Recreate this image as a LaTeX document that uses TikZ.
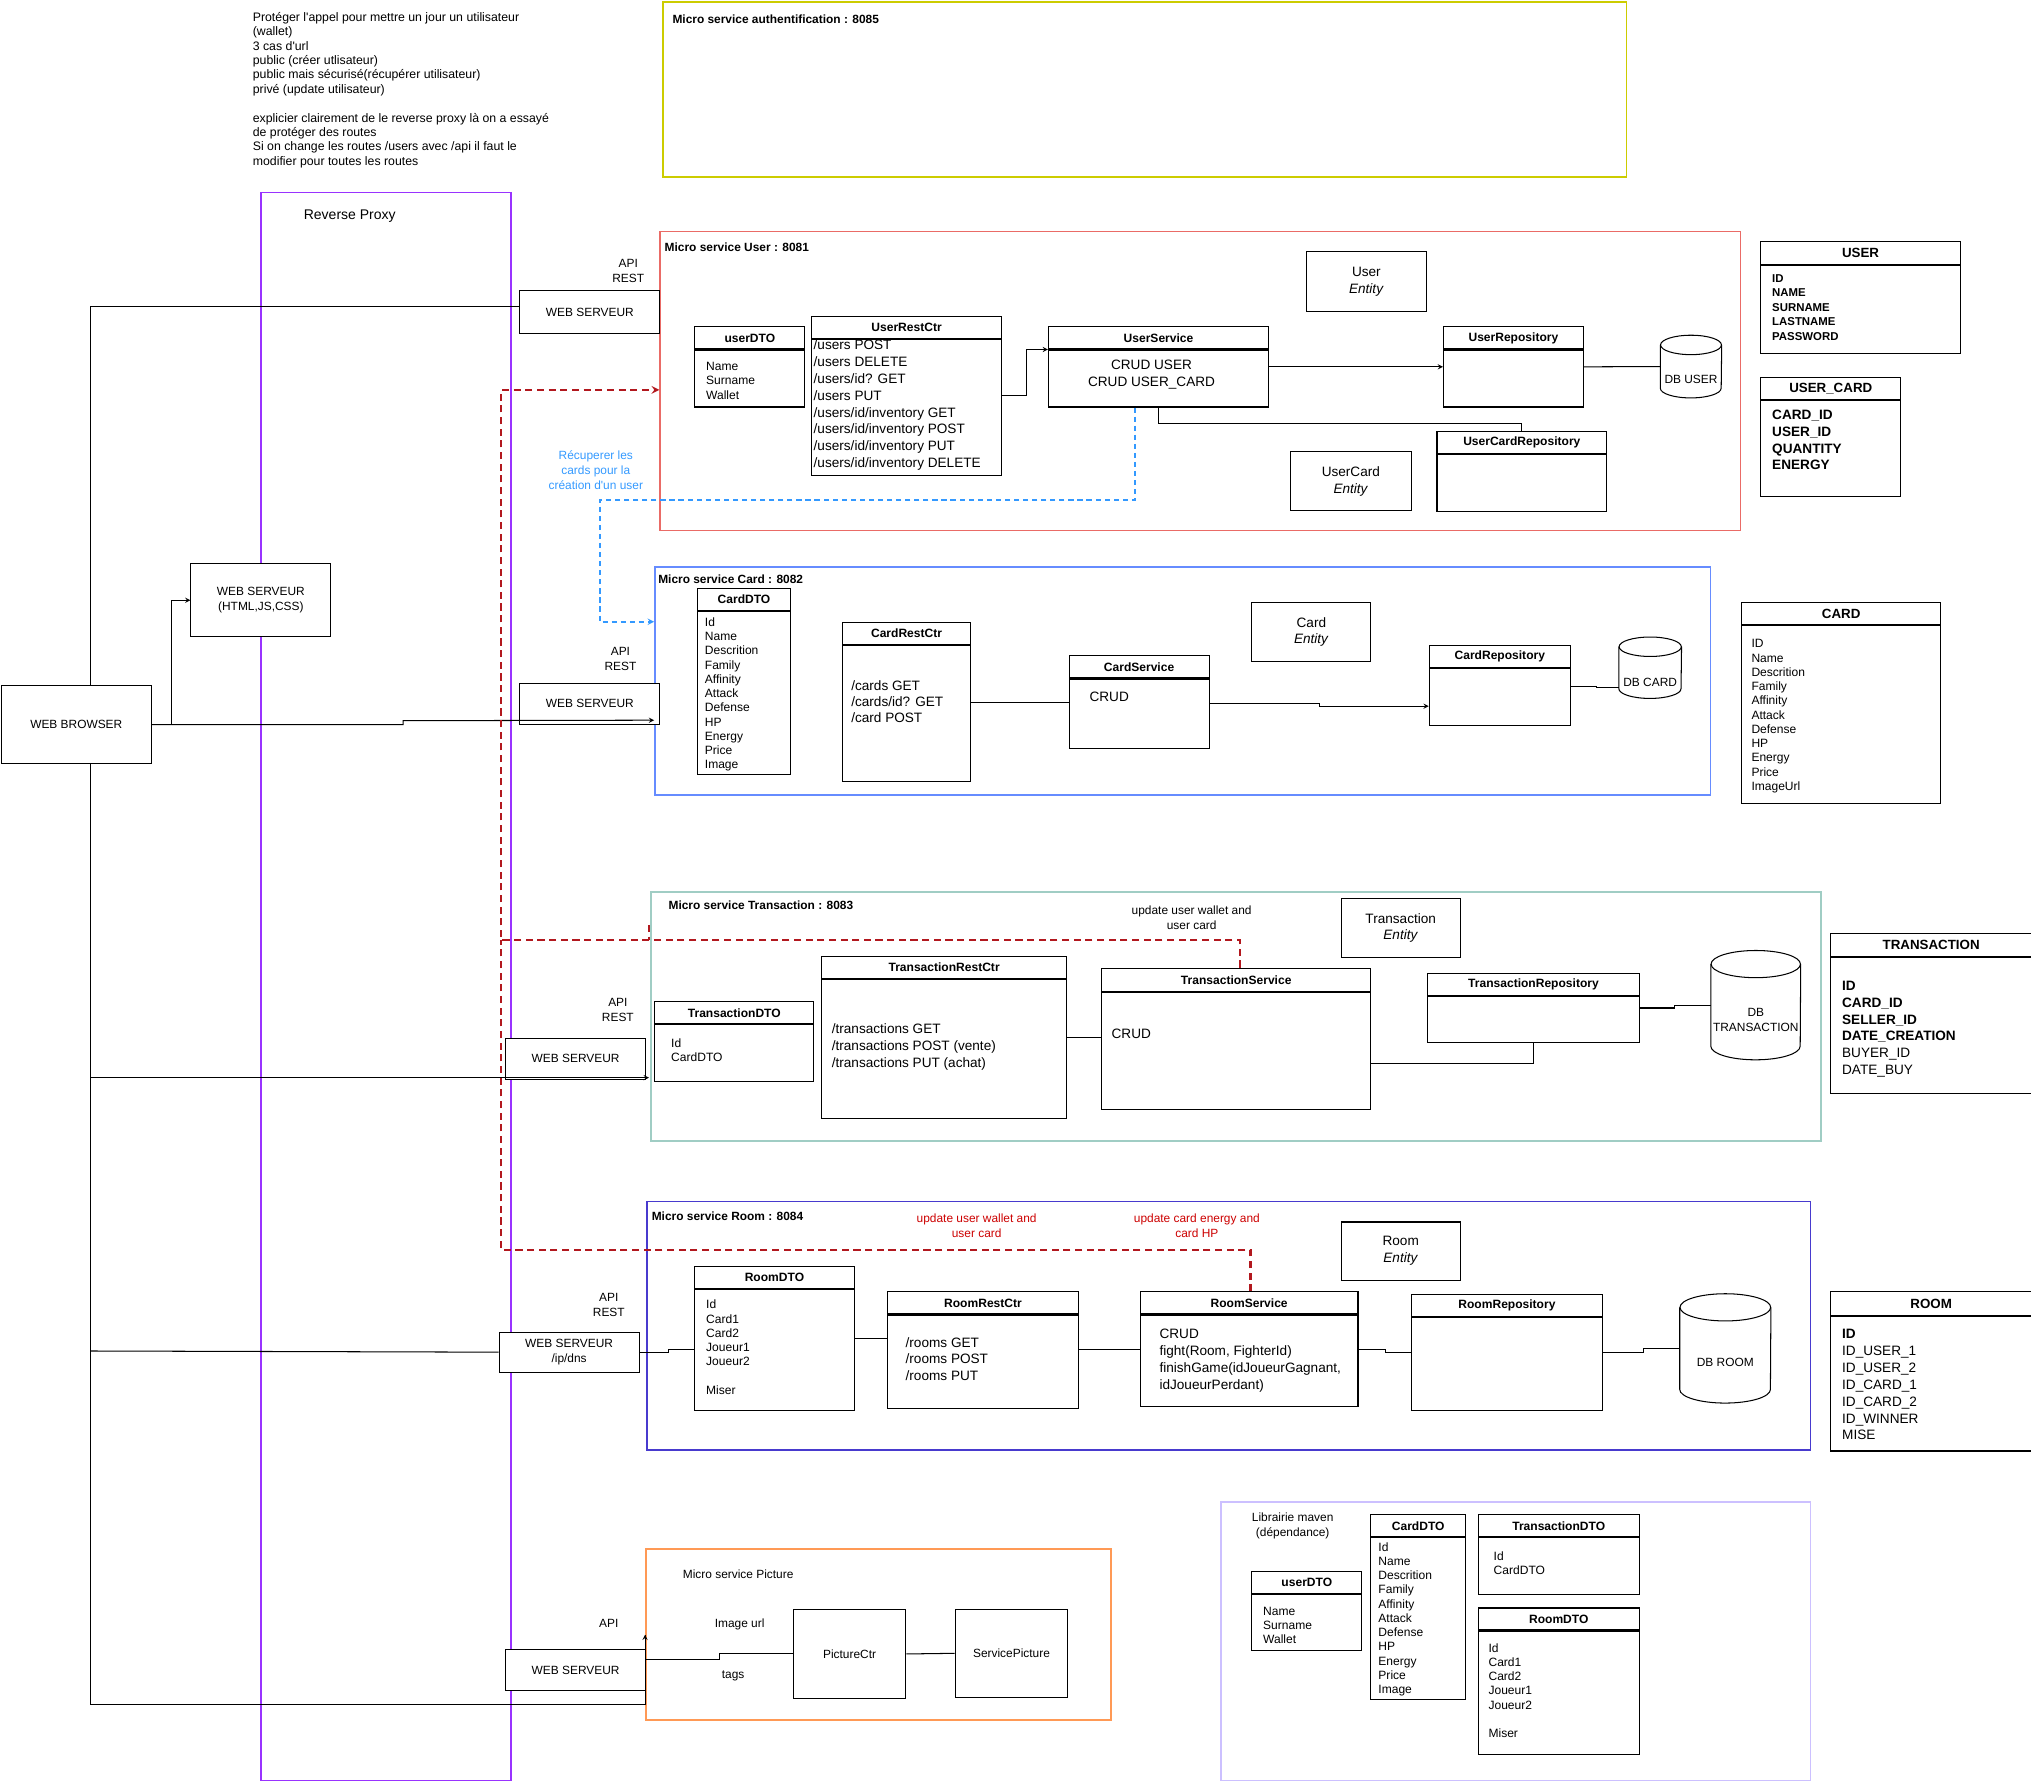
\documentclass[tikz,border=0pt]{standalone}
\usepackage{fontspec}
\setmainfont{Liberation Sans}
\usetikzlibrary{shapes.geometric, arrows, calc}
\definecolor{msyellow}{RGB}{204,204,0}
\definecolor{msred}{RGB}{234,107,102}
\definecolor{msblue}{RGB}{102,140,255}
\definecolor{msteal}{RGB}{160,205,196}
\definecolor{msindigo}{RGB}{72,58,206}
\definecolor{msorange}{RGB}{255,153,85}
\definecolor{mslavender}{RGB}{204,192,255}
\definecolor{proxyviolet}{RGB}{153,51,255}
\definecolor{dashred}{RGB}{178,24,30}
\definecolor{dashblue}{RGB}{51,153,255}
\definecolor{notered}{RGB}{204,0,0}
\tikzstyle{msbox} = [rectangle, line width=1.3pt, anchor=north west, inner sep=0pt]
\tikzstyle{mslabel} = [anchor=west, inner sep=0pt, font=\bfseries\fontsize{9.2}{11}\selectfont]
\tikzstyle{wbox} = [rectangle, draw=black, fill=white, line width=0.8pt, anchor=north west, inner sep=0pt, align=center, font=\fontsize{9.2}{11.5}\selectfont]
\tikzstyle{entity} = [wbox, font=\fontsize{10.5}{13}\selectfont]
\tikzstyle{head} = [rectangle, draw=black, fill=white, line width=0.8pt, anchor=north west, inner sep=0pt, font=\bfseries\fontsize{9.3}{11}\selectfont]
\tikzstyle{tabhead} = [head, font=\bfseries\fontsize{10.3}{12}\selectfont]
\tikzstyle{body} = [rectangle, draw=black, fill=white, line width=0.8pt, anchor=north west, inner sep=0pt, align=center, font=\fontsize{10.5}{13}\selectfont]
\tikzstyle{fields} = [anchor=north west, inner sep=0pt, align=left, font=\fontsize{9.3}{11}\selectfont]
\tikzstyle{routes} = [fields, font=\fontsize{10.5}{13}\selectfont]
\tikzstyle{txt} = [inner sep=0pt, align=center, font=\fontsize{9.2}{11.5}\selectfont]
\tikzstyle{note} = [anchor=north west, inner sep=0pt, align=left, font=\fontsize{9.5}{11.1}\selectfont]
\tikzstyle{db} = [rectangle, fill=white, inner sep=0pt]
\tikzstyle{link} = [line width=0.8pt]
\tikzstyle{arrow} = [line width=0.8pt, ->, >=stealth]
\tikzstyle{reddash} = [draw=dashred, line width=1.6pt, dash pattern=on 5.5pt off 3.5pt]
\tikzstyle{bluedash} = [draw=dashblue, line width=1.2pt, dash pattern=on 4pt off 3pt, ->, >=stealth]

\begin{document}
\begin{tikzpicture}[x=1pt, y=-1pt]
    \useasboundingbox (0,0) rectangle (1568,1376);

    % notes
    \node (notes) [note] at (195,9.3) {Prot\'eger l\textquotesingle appel pour mettre un jour un utilisateur\\(wallet)\\3 cas d\textquotesingle url\\public (cr\'eer utlisateur)\\public mais s\'ecuris\'e(r\'ecup\'erer utilisateur)\\priv\'e (update utilisateur)\\[11.1pt]explicier clairement de le reverse proxy l\`a on a essay\'e\\de prot\'eger des routes\\Si on change les routes /users avec /api il faut le\\modifier pour toutes les routes};

    % containers
    \node (msauth) [msbox, draw=msyellow, minimum width=744, minimum height=135] at (511,1) {};
    \node (msauthlbl) [mslabel] at (519,15) {Micro service authentification : 8085};
    \node (proxy) [msbox, draw=proxyviolet, line width=1pt, minimum width=193, minimum height=1226] at (201,148) {};
    \node (proxylbl) [txt, font=\fontsize{10.8}{13}\selectfont] at (270,167) {Reverse Proxy};
    \node (msuser) [msbox, draw=msred, minimum width=834, minimum height=231] at (509,178) {};
    \node (msuserlbl) [mslabel] at (513,191) {Micro service User : 8081};
    \node (mscard) [msbox, draw=msblue, minimum width=815, minimum height=176] at (505,437) {};
    \node (mscardlbl) [mslabel] at (508,447) {Micro service Card : 8082};
    \node (mstrans) [msbox, draw=msteal, minimum width=903, minimum height=192] at (502,688) {};
    \node (mstranslbl) [mslabel] at (516,699) {Micro service Transaction : 8083};
    \node (msroom) [msbox, draw=msindigo, minimum width=898, minimum height=192] at (499,927) {};
    \node (msroomlbl) [mslabel] at (503,939) {Micro service Room : 8084};
    \node (mspic) [msbox, draw=msorange, minimum width=359, minimum height=132] at (498,1195) {};
    \node (mspiclbl) [mslabel, font=\fontsize{9.2}{11}\selectfont] at (527,1215) {Micro service Picture};
    \node (mslib) [msbox, draw=mslavender, minimum width=455, minimum height=215] at (942,1159) {};
    \node (mslibllbl) [txt] at (998,1178) {Librairie maven\\(d\'ependance)};

    % browser and web servers
    \node (browser) [wbox, minimum width=116, minimum height=60] at (0.5,529) {WEB BROWSER};
    \node (wshtml) [wbox, minimum width=108, minimum height=56] at (147,435) {WEB SERVEUR\\(HTML,JS,CSS)};
    \node (wsuser) [wbox, minimum width=108, minimum height=33] at (401,224) {WEB SERVEUR};
    \node (apiuser) [txt] at (485,209) {API\\REST};
    \node (wscard) [wbox, minimum width=108, minimum height=32] at (401,527) {WEB SERVEUR};
    \node (apicard) [txt] at (479,509) {API\\REST};
    \node (wstrans) [wbox, minimum width=108, minimum height=32] at (390,801) {WEB SERVEUR};
    \node (apitrans) [txt] at (477,780) {API\\REST};
    \node (wsroom) [wbox, minimum width=108, minimum height=31] at (385,1028) {WEB SERVEUR\\/ip/dns};
    \node (apiroom) [txt] at (470,1007.5) {API\\REST};
    \node (wspic) [wbox, minimum width=108, minimum height=32] at (390,1273) {WEB SERVEUR};
    \node (apipic) [txt] at (470,1253) {API};

    % user service
    \node (userdtoh) [head, minimum width=85, minimum height=17] at (536,252) {userDTO};
    \node (userdto) [body, minimum width=85, minimum height=44] at (userdtoh.south west) {};
    \node (userdtotxt) [fields] at (545,279.6) {Name\\Surname\\Wallet};
    \node (userctrh) [head, minimum width=147, minimum height=17] at (626,244) {UserRestCtr};
    \node (userctr) [body, minimum width=147, minimum height=105] at (userctrh.south west) {};
    \node (userctrtxt) [routes] at (628,262.2) {/users POST\\/users DELETE\\/users/id? GET\\/users PUT\\/users/id/inventory GET\\/users/id/inventory POST\\/users/id/inventory PUT\\/users/id/inventory DELETE};
    \node (usersvch) [head, minimum width=170, minimum height=17] at (809,252) {UserService};
    \node (usersvc) [body, minimum width=170, minimum height=44] at (usersvch.south west) {};
    \node (usersvctxt) [txt, font=\fontsize{10.5}{13}\selectfont] at (889,289.5) {CRUD USER\\CRUD USER\_CARD};
    \node (userent) [entity, minimum width=93, minimum height=46] at (1008,194) {User\\\textit{Entity}};
    \node (userrepoh) [head, minimum width=108, minimum height=17] at (1114,252) {UserRepository};
    \node (userrepo) [body, minimum width=108, minimum height=44] at (userrepoh.south west) {};
    \node (dbuser) [db, minimum width=47, minimum height=48] at (1305.5,283) {};
    \draw [link] ($(dbuser.north)+(0,7.5)$) ellipse [x radius=23.5, y radius=7.5];
    \draw [link] ($(dbuser.north west)+(0,7.5)$) -- ($(dbuser.south west)+(0,-7.5)$) arc [start angle=180, end angle=0, x radius=23.5, y radius=7.5] -- ($(dbuser.north east)+(0,7.5)$);
    \node (dbusertxt) [txt] at (1305.5,293) {DB USER};
    \node (ucrepoh) [head, minimum width=131, minimum height=17] at (1109,333) {UserCardRepository};
    \node (ucrepo) [body, minimum width=131, minimum height=44] at (ucrepoh.south west) {};
    \node (ucent) [entity, minimum width=93, minimum height=46] at (996,348) {UserCard\\\textit{Entity}};
    \node (recup) [txt, text=dashblue] at (460,363) {R\'ecuperer les\\cards pour la\\cr\'eation d\textquotesingle un user};

    % card service
    \node (carddtoh) [head, minimum width=72, minimum height=17] at (538,454) {CardDTO};
    \node (carddto) [body, minimum width=72, minimum height=126] at (carddtoh.south west) {};
    \node (carddtotxt) [fields] at (544,476.6) {Id\\Name\\Descrition\\Family\\Affinity\\Attack\\Defense\\HP\\Energy\\Price\\Image};
    \node (cardctrh) [head, minimum width=99, minimum height=17] at (650,480) {CardRestCtr};
    \node (cardctr) [body, minimum width=99, minimum height=105] at (cardctrh.south west) {};
    \node (cardctrtxt) [routes, font=\fontsize{10.5}{12.5}\selectfont] at (657,525.2) {/cards GET\\/cards/id? GET\\/card POST};
    \node (cardsvch) [head, minimum width=108, minimum height=17] at (825,506) {CardService};
    \node (cardsvc) [body, minimum width=108, minimum height=54] at (cardsvch.south west) {};
    \node (cardsvctxt) [routes] at (841,534.2) {CRUD};
    \node (cardent) [entity, minimum width=92, minimum height=45] at (966,465) {Card\\\textit{Entity}};
    \node (cardrepoh) [head, minimum width=109, minimum height=17] at (1103,498) {CardRepository};
    \node (cardrepo) [body, minimum width=109, minimum height=44] at (cardrepoh.south west) {};
    \node (dbcard) [db, minimum width=48, minimum height=47] at (1274,515.5) {};
    \draw [link] ($(dbcard.north)+(0,7.5)$) ellipse [x radius=24, y radius=7.5];
    \draw [link] ($(dbcard.north west)+(0,7.5)$) -- ($(dbcard.south west)+(0,-7.5)$) arc [start angle=180, end angle=0, x radius=24, y radius=7.5] -- ($(dbcard.north east)+(0,7.5)$);
    \node (dbcardtxt) [txt] at (1274,527) {DB CARD};

    % transaction service
    \node (transent) [entity, minimum width=92, minimum height=46] at (1035,693) {Transaction\\\textit{Entity}};
    \node (transnote) [txt] at (920,708.5) {update user wallet and\\user card};
    \node (transdtoh) [head, minimum width=123, minimum height=17] at (505,773) {TransactionDTO};
    \node (transdto) [body, minimum width=123, minimum height=44] at (transdtoh.south west) {};
    \node (transdtotxt) [fields] at (518,801.6) {Id\\CardDTO};
    \node (transctrh) [head, minimum width=189, minimum height=17] at (634,738) {TransactionRestCtr};
    \node (transctr) [body, minimum width=189, minimum height=107] at (transctrh.south west) {};
    \node (transctrtxt) [routes] at (642,790.2) {/transactions GET\\/transactions POST (vente)\\/transactions PUT (achat)};
    \node (transvch) [head, minimum width=208, minimum height=18] at (850,747) {TransactionService};
    \node (transvc) [body, minimum width=208, minimum height=90] at (transvch.south west) {};
    \node (transvctxt) [routes] at (858,794.2) {CRUD};
    \node (transrepoh) [head, minimum width=163, minimum height=17] at (1102,751) {TransactionRepository};
    \node (transrepo) [body, minimum width=163, minimum height=36] at (transrepoh.south west) {};
    \node (dbtrans) [db, minimum width=69, minimum height=84] at (1355.5,776) {};
    \draw [link] ($(dbtrans.north)+(0,10.5)$) ellipse [x radius=34.5, y radius=10.5];
    \draw [link] ($(dbtrans.north west)+(0,10.5)$) -- ($(dbtrans.south west)+(0,-10.5)$) arc [start angle=180, end angle=0, x radius=34.5, y radius=10.5] -- ($(dbtrans.north east)+(0,10.5)$);
    \node (dbtranstxt) [txt] at (1355.5,787.5) {DB\\TRANSACTION};

    % room service
    \node (roomwallet) [txt, text=notered] at (754,946.5) {update user wallet and\\user card};
    \node (roomenergy) [txt, text=notered] at (924,946.5) {update card energy and\\card HP};
    \node (rooment) [entity, minimum width=92, minimum height=45] at (1035,943) {Room\\\textit{Entity}};
    \node (roomdtoh) [head, minimum width=123, minimum height=17] at (536,977) {RoomDTO};
    \node (roomdto) [body, minimum width=123, minimum height=94] at (roomdtoh.south west) {};
    \node (roomdtotxt) [fields] at (545,1003.6) {Id\\Card1\\Card2\\Joueur1\\Joueur2\\[11pt]Miser};
    \node (roomctrh) [head, minimum width=147, minimum height=17] at (685,997) {RoomRestCtr};
    \node (roomctr) [body, minimum width=147, minimum height=72] at (roomctrh.south west) {};
    \node (roomctrtxt) [routes] at (699,1032.2) {/rooms GET\\/rooms POST\\/rooms PUT};
    \node (roomsvch) [head, minimum width=168, minimum height=17] at (880,997) {RoomService};
    \node (roomsvc) [body, minimum width=168, minimum height=71] at (roomsvch.south west) {};
    \node (roomsvctxt) [routes] at (895,1026.2) {CRUD\\fight(Room, FighterId)\\finishGame(idJoueurGagnant,\\idJoueurPerdant)};
    \node (roomrepoh) [head, minimum width=148, minimum height=17] at (1089,999) {RoomRepository};
    \node (roomrepo) [body, minimum width=148, minimum height=72] at (roomrepoh.south west) {};
    \node (dbroom) [db, minimum width=70, minimum height=84] at (1332,1041) {};
    \draw [link] ($(dbroom.north)+(0,10.5)$) ellipse [x radius=35, y radius=10.5];
    \draw [link] ($(dbroom.north west)+(0,10.5)$) -- ($(dbroom.south west)+(0,-10.5)$) arc [start angle=180, end angle=0, x radius=35, y radius=10.5] -- ($(dbroom.north east)+(0,10.5)$);
    \node (dbroomtxt) [txt] at (1332,1052) {DB ROOM};

    % picture service
    \node (picctr) [wbox, minimum width=87, minimum height=69] at (612,1242) {PictureCtr};
    \node (picsvc) [wbox, minimum width=87, minimum height=68] at (737,1242) {ServicePicture};
    \node (imgurl) [txt] at (571,1254) {Image url};
    \node (tags) [txt] at (566,1294) {tags};

    % maven library
    \node (libuserh) [head, minimum width=85, minimum height=17] at (966,1213) {userDTO};
    \node (libuser) [body, minimum width=85, minimum height=43] at (libuserh.south west) {};
    \node (libusertxt) [fields] at (975,1240.6) {Name\\Surname\\Wallet};
    \node (libcardh) [head, minimum width=73, minimum height=17] at (1058,1169) {CardDTO};
    \node (libcard) [body, minimum width=73, minimum height=125] at (libcardh.south west) {};
    \node (libcardtxt) [fields] at (1064,1190.6) {Id\\Name\\Descrition\\Family\\Affinity\\Attack\\Defense\\HP\\Energy\\Price\\Image};
    \node (libtransh) [head, minimum width=124, minimum height=17] at (1141,1169) {TransactionDTO};
    \node (libtrans) [body, minimum width=124, minimum height=44] at (libtransh.south west) {};
    \node (libtranstxt) [fields] at (1153,1197.6) {Id\\CardDTO};
    \node (libroomh) [head, minimum width=124, minimum height=17] at (1141,1241) {RoomDTO};
    \node (libroom) [body, minimum width=124, minimum height=95] at (libroomh.south west) {};
    \node (libroomtxt) [fields] at (1149,1268.6) {Id\\Card1\\Card2\\Joueur1\\Joueur2\\[11pt]Miser};

    % database tables
    \node (tuserh) [tabhead, minimum width=154, minimum height=18] at (1359,186) {USER};
    \node (tuser) [body, minimum width=154, minimum height=68] at (tuserh.south west) {};
    \node (tusertxt) [fields, font=\bfseries\fontsize{8.8}{11.2}\selectfont] at (1368,211.8) {ID\\NAME\\SURNAME\\LASTNAME\\PASSWORD};
    \node (tucardh) [tabhead, minimum width=108, minimum height=17] at (1359,291) {USER\_CARD};
    \node (tucard) [body, minimum width=108, minimum height=74] at (tucardh.south west) {};
    \node (tucardtxt) [routes, font=\bfseries\fontsize{10.5}{13}\selectfont] at (1368,316.2) {CARD\_ID\\USER\_ID\\QUANTITY\\ENERGY};
    \node (tcardh) [tabhead, minimum width=154, minimum height=17] at (1344,465) {CARD};
    \node (tcard) [body, minimum width=154, minimum height=137] at (tcardh.south west) {};
    \node (tcardtxt) [fields] at (1352,493.6) {ID\\Name\\Descrition\\Family\\Affinity\\Attack\\Defense\\HP\\Energy\\Price\\ImageUrl};
    \node (ttransh) [tabhead, minimum width=155, minimum height=18] at (1413,720) {TRANSACTION};
    \node (ttrans) [body, minimum width=155, minimum height=105] at (ttransh.south west) {};
    \node (ttranstxt) [routes] at (1422,757.2) {\textbf{ID}\\\textbf{CARD\_ID}\\\textbf{SELLER\_ID}\\\textbf{DATE\_CREATION}\\BUYER\_ID\\DATE\_BUY};
    \node (troomh) [tabhead, minimum width=155, minimum height=18] at (1413,997) {ROOM};
    \node (troom) [body, minimum width=155, minimum height=104] at (troomh.south west) {};
    \node (troomtxt) [routes] at (1422,1026.2) {\textbf{ID}\\ID\_USER\_1\\ID\_USER\_2\\ID\_CARD\_1\\ID\_CARD\_2\\ID\_WINNER\\MISE};

    % free ends
    \coordinate (bustop) at (70,529);
    \coordinate (busbot) at (70,589);
    \coordinate (cardin) at (505,556);
    \coordinate (cardlink) at (505,480);
    \coordinate (transin) at (501,832);
    \coordinate (picup) at (498,1262);
    \coordinate (userin) at (509,301);

    % browser connectors
    \draw [arrow] (browser.east) -- ++(15,0) |- (wshtml.west);
    \draw [arrow] (browser.east) -- ++(194,0) -- ++(0,-3) -- (cardin);
    \draw [link] (bustop) |- ($(wsuser.west)+(0,-4.5)$);
    \draw [link] (busbot) -- (70,1316) -| (picup);
    \draw [arrow] (picup) ++(0,10) -- (picup);
    \draw [arrow] (70,832) -- (transin);
    \draw [link] (70,1043) -- (wsroom.west);

    % user service connectors
    \draw [arrow] ($(userctr.east)+(0,-9.5)$) -- ++(19,0) |- (usersvc.north west);
    \draw [arrow] ($(usersvc.east)+(0,-9)$) -- ($(userrepo.west)+(0,-9)$);
    \draw [link] ($(userrepo.east)+(0,-9)$) -- (dbuser.west);
    \draw [link] (usersvc.south) -- ++(0,12) -| (ucrepoh.north);
    \draw [bluedash] ($(usersvc.south)+(-18,0)$) |- (463,386) |- (cardlink);

    % card service connectors
    \draw [link] ($(cardctr.east)+(0,-8.5)$) -- ($(cardsvc.west)+(0,-9)$);
    \draw [arrow] ($(cardsvc.east)+(0,-8)$) -- ++(85,0) |- ($(cardrepo.west)+(0,7)$);
    \draw [link] ($(cardrepo.east)+(0,-8)$) -- ++(20,0) |- ($(dbcard.west)+(0,15.5)$);

    % transaction service connectors
    \draw [link] ($(transctr.east)+(0,-8.5)$) -- ($(transvc.west)+(0,-10)$);
    \draw [link] ($(transvc.east)+(0,10)$) -| (transrepo.south);
    \draw [link] ($(transrepo.east)+(0,-9)$) -- ++(27,0) |- (dbtrans.west);

    % room service connectors
    \draw [link] (wsroom.east) -- ++(22,0) |- (roomdto.west);
    \draw [link] ($(roomdto.east)+(0,-9)$) -- ($(roomctr.west)+(0,-18)$);
    \draw [link] ($(roomctr.east)+(0,-9)$) -- ($(roomsvc.west)+(0,-8.5)$);
    \draw [link] ($(roomsvc.east)+(0,-8.5)$) -- ++(21,0) |- ($(roomrepo.west)+(0,-9)$);
    \draw [link] ($(roomrepo.east)+(0,-9)$) -- ++(31,0) |- (dbroom.west);

    % picture service connectors
    \draw [link] ($(wspic.east)+(0,-8)$) -- ++(57,0) |- (picctr.west);
    \draw [link] (picctr.east) -- (picsvc.west);

    % calls between services
    \draw [reddash, ->, >=stealth] ($(transvch.north)+(3,0)$) |- (387,726) |- (userin);
    \draw [reddash] ($(roomsvch.north)+(1,0)$) |- (387,965) -- (387,726);
    \draw [reddash] (501,714) -- (501,726);

\end{tikzpicture}
\end{document}
